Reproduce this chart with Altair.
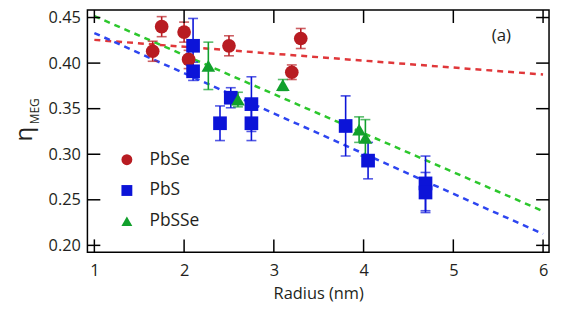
import altair as alt
import pandas as pd

# ---------------- data ----------------
pbse_r = [1.65, 1.75, 2.0, 2.05, 2.5, 3.2, 3.3]
pbse_v = [0.413, 0.440, 0.434, 0.404, 0.419, 0.390, 0.427]
pbse_e = [0.011, 0.011, 0.011, 0.010, 0.011, 0.008, 0.011]

pbs_r = [2.1, 2.1, 2.4, 2.52, 2.75, 2.75, 3.8, 4.05, 4.69, 4.69]
pbs_v = [0.419, 0.391, 0.334, 0.362, 0.355, 0.334, 0.331, 0.293, 0.268, 0.258]
pbs_e = [0.030, 0.010, 0.019, 0.011, 0.030, 0.019, 0.033, 0.020, 0.030, 0.022]

pbsse_r = [2.27, 2.6, 3.1, 3.95, 4.02]
pbsse_v = [0.397, 0.360, 0.376, 0.327, 0.318]
pbsse_e = [0.026, 0.008, 0.006, 0.014, 0.020]

fit_x = [1.0, 6.0]
fit_pbse = [0.4255, 0.3875]
fit_pbs = [0.433, 0.2125]
fit_pbsse = [0.4516, 0.2375]

x_ticks = [1, 2, 3, 4, 5, 6]
y_ticks = [0.20, 0.25, 0.30, 0.35, 0.40, 0.45]

series = ["PbSe", "PbS", "PbSSe"]
mark_colors = ["#b81c22", "#0c14d8", "#11a02c"]
line_colors = ["#e0373a", "#2d45f0", "#2cc72c"]
shapes = ["circle", "square", "triangle-up"]

W, H = 465, 244
FONT = "Open Sans"
TXT = "#231f20"

rows = []
for name, rr, vv, ee in [("PbSe", pbse_r, pbse_v, pbse_e),
                         ("PbS", pbs_r, pbs_v, pbs_e),
                         ("PbSSe", pbsse_r, pbsse_v, pbsse_e)]:
    for r, v, e in zip(rr, vv, ee):
        rows.append({"series": name, "r": r, "v": v, "lo": v - e, "hi": v + e})
df = pd.DataFrame(rows)

fits = []
for name, lc, vals in [("PbSe", line_colors[0], fit_pbse), ("PbS", line_colors[1], fit_pbs),
                       ("PbSSe", line_colors[2], fit_pbsse)]:
    for x, y in zip(fit_x, vals):
        fits.append({"series": name, "lc": lc, "r": x, "v": y})
fdf = pd.DataFrame(fits)

xs = alt.Scale(domain=[0.9226, 6.0664], nice=False, zero=False)
ys = alt.Scale(domain=[0.1924, 0.4582], nice=False, zero=False)
col_mark = alt.Scale(domain=series, range=mark_colors)
shp = alt.Scale(domain=series, range=shapes)

X = alt.X("r:Q", scale=xs, axis=alt.Axis(values=x_ticks, ticks=False, domain=False, grid=False,
                                          labelFontSize=16.5, labelPadding=10, labelColor=TXT,
                                          labelFont=FONT, title="Radius (nm)", titleFont=FONT,
                                          titleFontSize=16.5, titleFontWeight="normal",
                                          titleColor=TXT, titlePadding=7))
Y = alt.Y("v:Q", scale=ys, axis=alt.Axis(values=y_ticks, ticks=False, domain=False, grid=False,
                                          format=".2f", labelFontSize=16.5, labelPadding=7,
                                          labelColor=TXT, labelFont=FONT, title=None))

leg = alt.Legend(title=None, orient="none", legendX=31, legendY=142,
                 labelFontSize=17.5, labelFont=FONT, labelColor=TXT,
                 symbolSize=120, rowPadding=12, labelOffset=14, symbolStrokeWidth=0,
                 symbolOpacity=1)

base = alt.Chart(df)

lines = alt.Chart(fdf).mark_line(strokeDash=[6, 5], strokeWidth=2.5).encode(
    x=X, y=Y, color=alt.Color("lc:N", scale=None), detail="series:N")

err = base.mark_rule(strokeWidth=1.6).encode(
    x="r:Q", y="lo:Q", y2="hi:Q",
    color=alt.Color("series:N", scale=col_mark, legend=leg))
cap_lo = base.mark_tick(orient="horizontal", size=10, thickness=1.6).encode(
    x="r:Q", y="lo:Q", color=alt.Color("series:N", scale=col_mark, legend=leg))
cap_hi = base.mark_tick(orient="horizontal", size=10, thickness=1.6).encode(
    x="r:Q", y="hi:Q", color=alt.Color("series:N", scale=col_mark, legend=leg))

pts = base.mark_point(filled=True, opacity=1, size=190).encode(
    x="r:Q", y="v:Q",
    color=alt.Color("series:N", scale=col_mark, legend=leg),
    shape=alt.Shape("series:N", scale=shp, legend=leg),
)

# inward ticks on all four sides
xt = pd.DataFrame({"r": x_ticks})
yt = pd.DataFrame({"v": y_ticks})
tick_b = alt.Chart(xt).mark_rule(color="black", strokeWidth=1.5).encode(
    x="r:Q", y=alt.value(H), y2=alt.value(H - 13))
tick_t = alt.Chart(xt).mark_rule(color="black", strokeWidth=1.5).encode(
    x="r:Q", y=alt.value(0), y2=alt.value(13))
tick_l = alt.Chart(yt).mark_rule(color="black", strokeWidth=1.5).encode(
    y="v:Q", x=alt.value(0), x2=alt.value(13))
tick_r = alt.Chart(yt).mark_rule(color="black", strokeWidth=1.5).encode(
    y="v:Q", x=alt.value(W), x2=alt.value(W - 13))

eta = alt.Chart(pd.DataFrame({"t": ["η"]})).mark_text(
    angle=270, fontSize=24, font=FONT, color=TXT, align="center", baseline="middle").encode(
    text="t:N", x=alt.value(-63), y=alt.value(125))
meg = alt.Chart(pd.DataFrame({"t": ["MEG"]})).mark_text(
    angle=270, fontSize=12, font=FONT, color=TXT, align="center", baseline="middle").encode(
    text="t:N", x=alt.value(-53), y=alt.value(102))
lab = alt.Chart(pd.DataFrame({"t": ["(a)"]})).mark_text(
    fontSize=17, font=FONT, color=TXT, align="center", baseline="middle").encode(
    text="t:N", x=alt.value(417), y=alt.value(26))

chart = alt.layer(lines, err, cap_lo, cap_hi, pts, tick_b, tick_t, tick_l, tick_r, eta, meg, lab).encode(
    x=X, y=Y
).properties(
    width=W, height=H,
    autosize=alt.AutoSizeParams(type="none"),
    padding={"left": 80, "top": 1, "right": 4, "bottom": 50},
).configure_view(stroke="black", strokeWidth=1.5)

chart.save("out.html", embed_options={"renderer": "svg", "actions": False})
